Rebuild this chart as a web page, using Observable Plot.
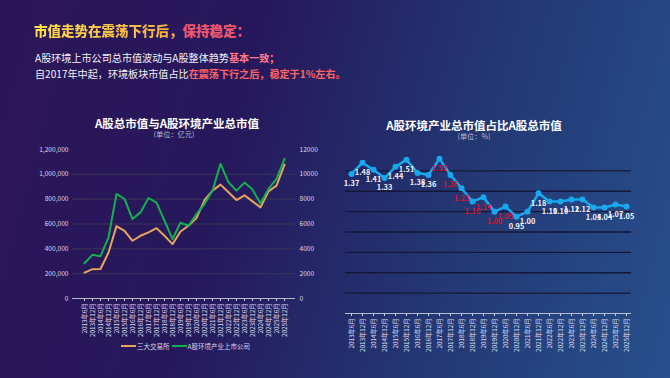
<!DOCTYPE html>
<html>
<head>
<meta charset="utf-8">
<script src="https://cdn.jsdelivr.net/npm/d3@7"></script>
<script src="https://cdn.jsdelivr.net/npm/@observablehq/plot@0.6"></script>
<style>
  html, body { margin: 0; padding: 0; }
  body { width: 670px; height: 378px; overflow: hidden; font-family: "Noto Sans CJK SC", "Noto Sans", sans-serif; }
  #page { position: relative; width: 670px; height: 378px; overflow: hidden;
    background: linear-gradient(105deg, #2c1659 0%, #26185c 35%, #233672 65%, #27508c 100%); }
  .abs { position: absolute; white-space: nowrap; }
  #title { left: 34px; top: 20px; font-size: 13.5px; font-weight: 900; line-height: 20px; }
  #title .a { background: linear-gradient(90deg, #fde047, #f7a844); -webkit-background-clip: text; background-clip: text; color: transparent; }
  #title .b { color: #f0566c; }
  .sub { left: 35px; font-size: 10.1px; color: #f2f2f8; line-height: 14px; }
  .hl1 { color: #ff7a8c; font-weight: 700; }
  .hl2 { color: #ff6464; font-weight: 700; }
  .ctitle { font-size: 11.5px; font-weight: 700; color: #ffffff; transform: translateX(-50%); line-height: 14px; }
  .cunit { font-size: 7.2px; color: #b8b8cc; transform: translateX(-50%); line-height: 10px; }
  #legend { left: 121px; top: 341px; font-size: 6.5px; color: #d8d8e8; display: flex; align-items: center; }
  #legend .sw { display: inline-block; width: 15px; height: 2px; margin-right: 1px; }
  #legend .item { display: flex; align-items: center; margin-right: 2px; }
  svg { position: absolute; background: transparent; overflow: visible; }
</style>
</head>
<body>
<div id="page">
  <div id="title" class="abs"><span class="a">市值走势在震荡下行后，</span><span class="b">保持稳定：</span></div>
  <div class="abs sub" style="top:51px">A股环境上市公司总市值波动与A股整体趋势<span class="hl1">基本一致；</span></div>
  <div class="abs sub" style="top:67px">自2017年中起，环境板块市值占比<span class="hl2">在震荡下行之后，稳定于1%左右。</span></div>

  <div class="abs ctitle" style="left:177px; top:116px">A股总市值与A股环境产业总市值</div>
  <div class="abs cunit" style="left:174px; top:129px">(单位：亿元)</div>

  <div class="abs ctitle" style="left:474px; top:118px">A股环境产业总市值占比A股总市值</div>
  <div class="abs cunit" style="left:474px; top:131px">(单位：%)</div>

  <div id="legend" class="abs">
    <span class="item"><span class="sw" style="background:#e6a45c"></span>三大交易所</span>
    <span class="item"><span class="sw" style="background:#14b04c"></span>A股环境产业上市公司</span>
  </div>
  <div id="left"></div>
  <div id="right"></div>
</div>
<script>
const dates = ["2013年6月","2013年12月","2014年6月","2014年12月","2015年6月","2015年12月","2016年6月","2016年12月","2017年6月","2017年12月","2018年6月","2018年12月","2019年6月","2019年12月","2020年6月","2020年12月","2021年6月","2021年12月","2022年6月","2022年12月","2023年6月","2023年12月","2024年6月","2024年12月","2025年6月","2025年12月"];
const exchangeCap = [208000,236000,238000,370000,583000,545000,465000,505000,532000,567000,505000,438000,540000,586000,648000,793000,869000,917000,855000,793000,831000,782000,734000,863000,909000,1079000];
const envCap = [2840,3515,3410,4913,8420,8015,6400,6935,8095,7715,6260,4780,6100,5860,6800,7610,8690,10840,9360,8690,9335,8770,7660,8820,9630,11250];
const sharePct = [1.37,1.48,1.41,1.33,1.44,1.51,1.38,1.36,1.52,1.36,1.23,1.10,1.14,1.00,1.05,0.95,1.00,1.18,1.10,1.10,1.12,1.12,1.04,1.04,1.07,1.05];
const redLabelIdx = [8,9,10,11,12,13,14];
const leftTicks = [0,200000,400000,600000,800000,1000000,1200000];
const leftGrid = [200000,400000,600000,800000,1000000];
const rightGrid = [0.2,0.4,0.6,0.8,1.0,1.2,1.4];

const leftData = dates.map((d,i) => ({date:d, cap:exchangeCap[i], env:envCap[i]}));
const rightData = dates.map((d,i) => ({date:d, v:sharePct[i], red:redLabelIdx.includes(i)}));

const baseStyle = {fontFamily:"'Noto Sans CJK SC', sans-serif", fontSize:"6.3px", color:"#dcdcec", background:"transparent", overflow:"visible"};

const left = Plot.plot({
  width: 340, height: 200,
  marginLeft: 72, marginRight: 45, marginTop: 9, marginBottom: 42,
  style: baseStyle,
  x: {type:"point", domain: dates, padding: 0},
  y: {domain:[0,1200000]},
  marks: [
    Plot.ruleY(leftGrid, {stroke:"#3a3656", strokeWidth:1}),
    Plot.ruleY([0], {stroke:"#b8b8cc", strokeWidth:1}),
    Plot.axisY({anchor:"left", ticks:leftTicks, tickFormat:d3.format(","), tickSize:0, tickPadding:4, label:null, fontSize:6.6}),
    Plot.axisY({anchor:"right", ticks:leftTicks, tickFormat:d => String(d/100), tickSize:0, tickPadding:4, label:null, fontSize:6.6}),
    Plot.axisX({tickRotate:-90, tickSize:3, tickPadding:2, label:null, stroke:"#c8c8d8"}),
    Plot.line(leftData, {x:"date", y:"cap", stroke:"#e6a45c", strokeWidth:2}),
    Plot.line(leftData, {x:"date", y:d => d.env*100, stroke:"#14b04c", strokeWidth:2})
  ]
});
left.style.left = "0px"; left.style.top = "140px";
document.getElementById("left").appendChild(left);

const right = Plot.plot({
  width: 340, height: 213,
  marginLeft: 15, marginRight: 39, marginTop: 10, marginBottom: 40,
  style: baseStyle,
  x: {type:"point", domain: dates, padding: 0},
  y: {domain:[0,1.6], axis:null},
  marks: [
    Plot.ruleY(rightGrid, {stroke:"#141838", strokeWidth:1.3}),
    Plot.ruleY([0], {stroke:"#b4bcd4", strokeWidth:1}),
    Plot.axisX({tickRotate:-90, tickSize:3, tickPadding:2, label:null, stroke:"#c8d0e0"}),
    Plot.line(rightData, {x:"date", y:"v", stroke:"#18a8ee", strokeWidth:2.5}),
    Plot.dot(rightData, {x:"date", y:"v", fill:"#18a8ee", r:3}),
    Plot.text(rightData.filter(d => !d.red), {x:"date", y:"v", text:d => d.v.toFixed(2), dy:10, fill:"#f4f4fa", fontSize:7.4, fontWeight:600}),
    Plot.text(rightData.filter(d => d.red), {x:"date", y:"v", text:d => d.v.toFixed(2), dy:10, fill:"#d4142c", fontSize:7.4, fontWeight:600})
  ]
});
right.style.left = "330px"; right.style.top = "140px";
document.getElementById("right").appendChild(right);
</script>
</body>
</html>
